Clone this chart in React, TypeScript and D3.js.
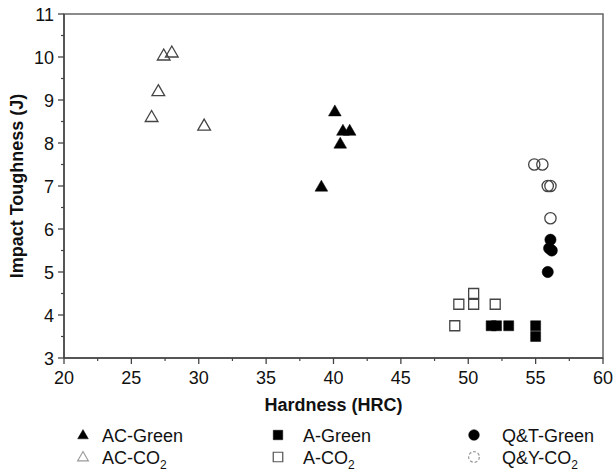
import React from "react";
import * as d3 from "d3";

// hardness (HRC), impact toughness (J)
const acGreenX = [40.1, 40.7, 41.2, 40.5, 39.1];
const acGreenY = [8.75, 8.3, 8.3, 8.0, 7.0];
const acCo2X = [27.4, 28.0, 27.0, 26.5, 30.4];
const acCo2Y = [10.05, 10.12, 9.22, 8.62, 8.42];
const aGreenX = [51.7, 52.1, 53.0, 55.0, 55.0];
const aGreenY = [3.75, 3.75, 3.75, 3.75, 3.5];
const aCo2X = [49.0, 49.3, 50.4, 50.4, 52.0];
const aCo2Y = [3.75, 4.25, 4.5, 4.25, 4.25];
const qtGreenX = [56.1, 56.0, 56.2, 55.9];
const qtGreenY = [5.75, 5.55, 5.5, 5.0];
const qyCo2X = [54.9, 55.5, 55.9, 56.1, 56.1];
const qyCo2Y = [7.5, 7.5, 7.0, 7.0, 6.25];

const xTicks = [20, 25, 30, 35, 40, 45, 50, 55, 60];
const yTicks = [3, 4, 5, 6, 7, 8, 9, 10, 11];

const W = 614;
const H = 475;
const M = { left: 64, right: 603, top: 14, bottom: 358 };
const FONT = "'Liberation Sans', Arial, sans-serif";

const x = d3.scaleLinear().domain([20, 60]).range([M.left, M.right]);
const y = d3.scaleLinear().domain([3, 11]).range([M.bottom, M.top]);

const tri = d3.symbol(d3.symbolTriangle, 70)()!;
const sq = d3.symbol(d3.symbolSquare, 100)()!;
const circ = d3.symbol(d3.symbolCircle, 100)()!;

type Ser = {
  xs: number[];
  ys: number[];
  path: string;
  filled: boolean;
  label: string;
  sub?: boolean;
  dy?: number;
};

const series: Ser[] = [
  { xs: acCo2X, ys: acCo2Y, path: tri, filled: false, label: "AC-CO", sub: true, dy: 1.5 },
  { xs: acGreenX, ys: acGreenY, path: tri, filled: true, label: "AC-Green", dy: 1.5 },
  { xs: aCo2X, ys: aCo2Y, path: sq, filled: false, label: "A-CO", sub: true },
  { xs: aGreenX, ys: aGreenY, path: sq, filled: true, label: "A-Green" },
  { xs: qyCo2X, ys: qyCo2Y, path: circ, filled: false, label: "Q&Y-CO", sub: true },
  { xs: qtGreenX, ys: qtGreenY, path: circ, filled: true, label: "Q&T-Green" },
];

const legendRows = [
  [
    { s: series[1], lx: 83, tx: 102 },
    { s: series[3], lx: 278, tx: 303 },
    { s: series[5], lx: 474, tx: 502 },
  ],
  [
    { s: series[0], lx: 83, tx: 102 },
    { s: series[2], lx: 278, tx: 303 },
    { s: series[4], lx: 474, tx: 502 },
  ],
];

export default function App() {
  const minorX = d3.range(22.5, 60, 5);
  const minorY = d3.range(3.5, 11, 1);
  return (
    <svg width={W} height={H} style={{ display: "block", position: "absolute", left: 0, top: 0, background: "#fff" }} fontFamily={FONT}>
      <rect x={M.left} y={M.top} width={M.right - M.left} height={M.bottom - M.top} fill="none" stroke="#666" strokeWidth={1.5} />
      <line x1={M.left} x2={M.right} y1={M.bottom} y2={M.bottom} stroke="#444" strokeWidth={1.5} />
      <line x1={M.left} x2={M.left} y1={M.top} y2={M.bottom} stroke="#444" strokeWidth={1.5} />
      {xTicks.map((t) => (
        <g key={"xt" + t}>
          <line x1={x(t)} x2={x(t)} y1={M.bottom} y2={M.bottom + 6} stroke="#444" strokeWidth={1.3} />
          <text x={x(t)} y={M.bottom + 26} textAnchor="middle" fontSize={18} fill="#111">{t}</text>
        </g>
      ))}
      {minorX.map((t) => (
        <line key={"xm" + t} x1={x(t)} x2={x(t)} y1={M.bottom} y2={M.bottom + 3} stroke="#444" strokeWidth={1.2} />
      ))}
      {yTicks.map((t) => (
        <g key={"yt" + t}>
          <line x1={M.left - 6} x2={M.left} y1={y(t)} y2={y(t)} stroke="#444" strokeWidth={1.3} />
          <text x={M.left - 10} y={y(t) + 6.5} textAnchor="end" fontSize={18} fill="#111">{t}</text>
        </g>
      ))}
      {minorY.map((t) => (
        <line key={"ym" + t} x1={M.left - 3} x2={M.left} y1={y(t)} y2={y(t)} stroke="#444" strokeWidth={1.2} />
      ))}
      <text x={(M.left + M.right) / 2} y={411} textAnchor="middle" fontSize={18} fontWeight="bold" fill="#111">Hardness (HRC)</text>
      <text transform={`translate(23,${(M.top + M.bottom) / 2}) rotate(-90)`} textAnchor="middle" fontSize={18} fontWeight="bold" fill="#111">Impact Toughness (J)</text>

      {series.map((s, i) => (
        <g key={"s" + i}>
          {s.xs.map((v, j) => (
            <path
              key={j}
              d={s.path}
              transform={`translate(${x(v)},${y(s.ys[j]) + (s.dy || 0)})`}
              fill={s.filled ? "#000" : "#fff"}
              fillOpacity={s.filled ? 1 : 0}
              stroke={s.filled ? "#000" : "#444"}
              strokeWidth={s.filled ? 0.5 : 1.3}
            />
          ))}
        </g>
      ))}

      {legendRows.map((row, ri) =>
        row.map((it, ci) => {
          const cy = 435 + ri * 22;
          const co2 = !it.s.filled;
          const sc = it.s.path === tri ? 0.85 : 0.95;
          return (
            <g key={`lg${ri}-${ci}`}>
              <path
                d={it.s.path}
                transform={`translate(${it.lx},${cy + (it.s.dy || 0) * 0.5}) scale(${sc})`}
                fill={it.s.filled ? "#000" : "none"}
                stroke={it.s.filled ? "#000" : it.s.path === sq ? "#555" : "#999"}
                strokeWidth={it.s.filled ? 0.5 : 1.3}
                strokeDasharray={co2 && it.s.path === circ ? "3 2" : undefined}
              />
              <text x={it.tx} y={cy + 6.5} fontSize={18} fill="#111">
                {it.s.label}
                {it.s.sub ? <tspan dy={5} fontSize={12}>2</tspan> : null}
              </text>
            </g>
          );
        })
      )}
    </svg>
  );
}
